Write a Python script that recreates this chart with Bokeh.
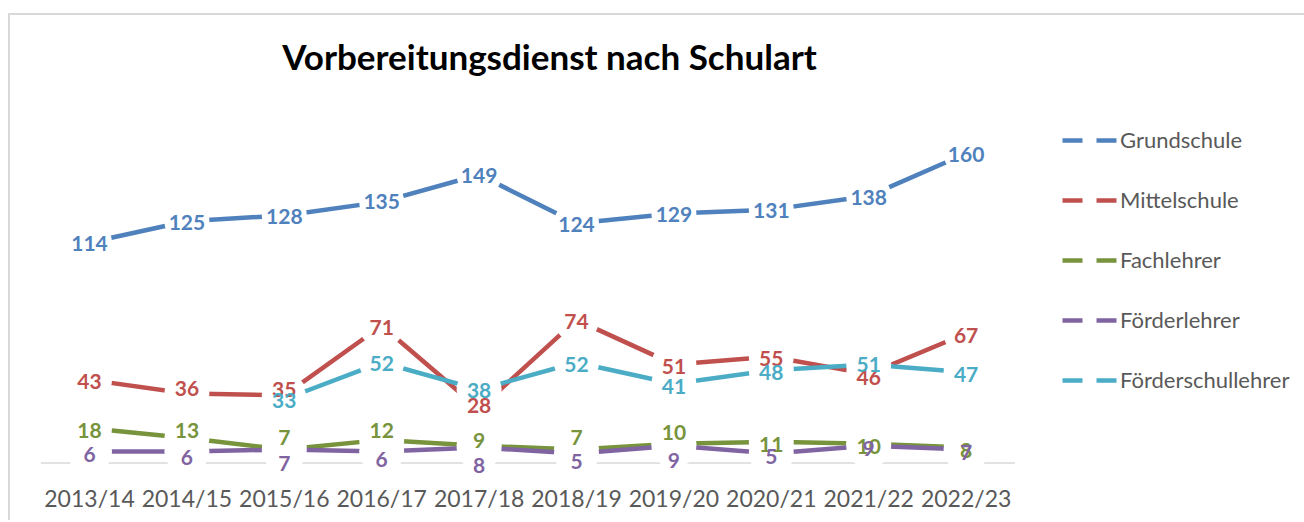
from bokeh.plotting import figure
from bokeh.models import Legend, LegendItem, Range1d, ColumnDataSource, Label, FixedTicker
from bokeh.core.properties import value
from bokeh.embed import file_html
from bokeh.resources import INLINE

# ---------------- data ----------------
years = ["2013/14", "2014/15", "2015/16", "2016/17", "2017/18",
         "2018/19", "2019/20", "2020/21", "2021/22", "2022/23"]
grundschule = [114, 125, 128, 135, 149, 124, 129, 131, 138, 160]
mittelschule = [43, 36, 35, 71, 28, 74, 51, 55, 46, 67]
fachlehrer = [18, 13, 7, 12, 9, 7, 10, 11, 10, 8]
foerderlehrer = [6, 6, 7, 6, 8, 5, 9, 5, 9, 7]
foerderschullehrer = [None, None, 33, 52, 38, 52, 41, 48, 51, 47]
series_names = ["Grundschule", "Mittelschule", "Fachlehrer", "Förderlehrer", "Förderschullehrer"]
title_text = "Vorbereitungsdienst nach Schulart"

# ---------------- style / layout ----------------
colors = ["#4F81BD", "#C0504D", "#77933C", "#8064A2", "#4BACC6"]
# vertical label nudges in screen px (collision avoidance as in the original)
label_nudges = [
    [1, 1, 1, 0, 1, 1, 1, 1, 1, 1],
    [2, -5, -6, 2, -3, 2, 2, 2, 3, 2],
    [2, -7, -12, -9, -5, -12, -11, 3, 3, 3],
    [3, 6, 14, 8, 18, 8, 15, 3, 3, 3],
    [0, 0, 1, 1, 1, 2, 3, 2, 0, 2],
]
FONT = "Lato"
W, H = 1304, 520
FRAME_BOTTOM = 476          # px from top where the plotting frame ends
CAT_W, FIRST_C = 97.4, 89.0  # category width and first category centre (px)
ZERO_Y, PX_PER_UNIT = 462.6, 1.935
GAP_MARKER = 45             # white (invisible) markers that open the lines at each point
LINE_W = 4.5

x_lo = -FIRST_C / CAT_W
x_hi = x_lo + W / CAT_W
y_lo = -(FRAME_BOTTOM - ZERO_Y) / PX_PER_UNIT
y_hi = ZERO_Y / PX_PER_UNIT

idx = list(range(len(years)))

p = figure(x_range=Range1d(x_lo, x_hi), y_range=Range1d(y_lo, y_hi),
           width=W, height=H, output_backend="svg", toolbar_location=None,
           min_border_left=0, min_border_right=0, min_border_top=0,
           min_border_bottom=H - FRAME_BOTTOM,
           background_fill_alpha=0, border_fill_alpha=0)
p.styles = {
    "background-color": "white",
    "background-image": "linear-gradient(#d9d9d9,#d9d9d9), linear-gradient(#d9d9d9,#d9d9d9)",
    "background-size": "100% 2px, 2px 100%",
    "background-position": "8px 13px, 8px 13px",
    "background-repeat": "no-repeat",
}
p.outline_line_color = None
p.grid.visible = False
p.yaxis.visible = False
xa = p.xaxis[0]
xa.ticker = FixedTicker(ticks=idx)
xa.major_label_overrides = {i: y for i, y in zip(idx, years)}
xa.axis_line_color = None
xa.major_tick_line_color = None
xa.major_tick_out = 0
xa.major_tick_in = 0
xa.minor_tick_line_color = None
xa.major_label_text_font = FONT
xa.major_label_text_font_size = "23px"
xa.major_label_text_color = "#595959"
xa.major_label_standoff = 7

# category-axis baseline across the category bands
p.segment(x0=[idx[0] - 0.5], x1=[idx[-1] + 0.5], y0=[0], y1=[0],
          line_color="#d9d9d9", line_width=1.5)

all_series = [grundschule, mittelschule, fachlehrer, foerderlehrer, foerderschullehrer]

# lines, each followed by white point markers that leave the gaps seen in the original
for vals, col in zip(all_series, colors):
    ys = [float("nan") if v is None else v for v in vals]
    p.line(x=idx, y=ys, line_color=col, line_width=LINE_W)
    keep = [i for i, v in zip(idx, vals) if v is not None]
    p.scatter(x=keep, y=[vals[i] for i in keep], size=GAP_MARKER, marker="circle",
              fill_color="white", line_color=None)

# data labels on top
for vals, col, nud in zip(all_series, colors, label_nudges):
    keep = [i for i, v in zip(idx, vals) if v is not None]
    src = ColumnDataSource(dict(x=keep, y=[vals[i] for i in keep],
                                t=[str(vals[i]) for i in keep],
                                dy=[nud[i] for i in keep]))
    p.text(x="x", y="y", text="t", source=src, text_color=col,
           text_font=value(FONT), text_font_style="bold", text_font_size=value("21px"),
           text_align="center", text_baseline="middle", y_offset="dy")

# legend with dashed swatches (single-point proxies draw nothing on the plot)
items = []
for name, vals, col in zip(series_names, all_series, colors):
    first = next(i for i, v in zip(idx, vals) if v is not None)
    r = p.line(x=[first], y=[vals[first]], line_color=col, line_width=LINE_W, line_dash="20 14")
    items.append(LegendItem(label=name, renderers=[r]))
legend = Legend(items=items, location=(1062, 83), orientation="vertical",
                glyph_width=55, glyph_height=24, label_height=24, spacing=33,
                label_standoff=3, padding=0, margin=0, border_line_color=None,
                background_fill_alpha=0,
                label_text_font=FONT, label_text_font_size="22px", label_text_color="#595959")
p.add_layout(legend, "center")

# chart title
p.add_layout(Label(x=549, y=FRAME_BOTTOM - 55, x_units="screen", y_units="screen",
                   text=title_text, text_font=FONT, text_font_style="bold",
                   text_font_size="35px", text_color="black",
                   text_align="center", text_baseline="alphabetic"))

open("out.html", "w").write(file_html(p, INLINE))
